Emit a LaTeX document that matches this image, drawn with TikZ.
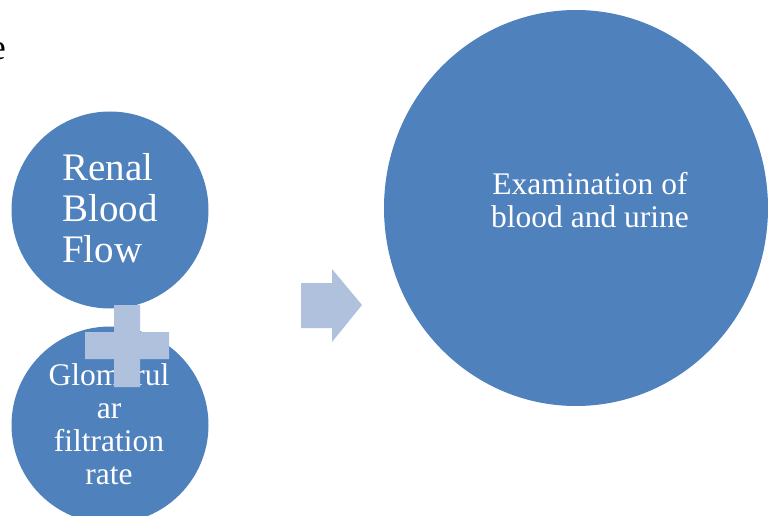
\documentclass[tikz,border=0pt]{standalone}
\usepackage{fontspec}
\setmainfont{Liberation Serif}
\usetikzlibrary{shapes.geometric}
\definecolor{darkblue}{HTML}{4F81BD}
\definecolor{lightblue}{HTML}{B0C1DE}
\begin{document}
\begin{tikzpicture}[x=1pt,y=-1pt,
  bluedisc/.style={circle,fill=darkblue,draw=none,inner sep=0pt,minimum size=197pt},
  whitetext/.style={text=white,inner sep=0pt},
  bigtext/.style={whitetext,font=\fontsize{39}{41}\selectfont,align=left},
  midtext/.style={whitetext,font=\fontsize{31.5}{33}\selectfont,align=center},
  lightshape/.style={fill=lightblue,draw=none}]
\useasboundingbox (0,0) rectangle (769,516);
% partial letter at the top left
\node[inner sep=0pt,anchor=base east,font=\fontsize{36}{40}\selectfont] (edge) at (6,60) {e};
% discs
\node[bluedisc] (rbf) at (110,210) {};
\node[bluedisc] (gfr) at (110,425) {};
\node[ellipse,fill=darkblue,draw=none,inner sep=0pt,minimum width=384pt,minimum height=396pt] (exam) at (576,208) {};
% texts (base anchor = baseline of the last line)
\node[bigtext,anchor=base west] (rbft) at (62,262) {Renal\\Blood\\Flow};
\node[midtext,anchor=base] (gfrt) at (109,484) {Glomerul\\ar\\filtration\\rate};
\node[midtext,anchor=base] (examt) at (590,228) {Examination of\\blood and urine};
% plus sign
\fill[lightshape] (114,305) -- (140,305) -- (140,332) -- (169,332) -- (169,359) -- (140,359) -- (140,387) -- (114,387) -- (114,359) -- (85,359) -- (85,332) -- (114,332) -- cycle;
% arrow
\fill[lightshape] (301,283) -- (332,283) -- (332,269) -- (362,305) -- (332,342) -- (332,328) -- (301,328) -- cycle;
\end{tikzpicture}
\end{document}
